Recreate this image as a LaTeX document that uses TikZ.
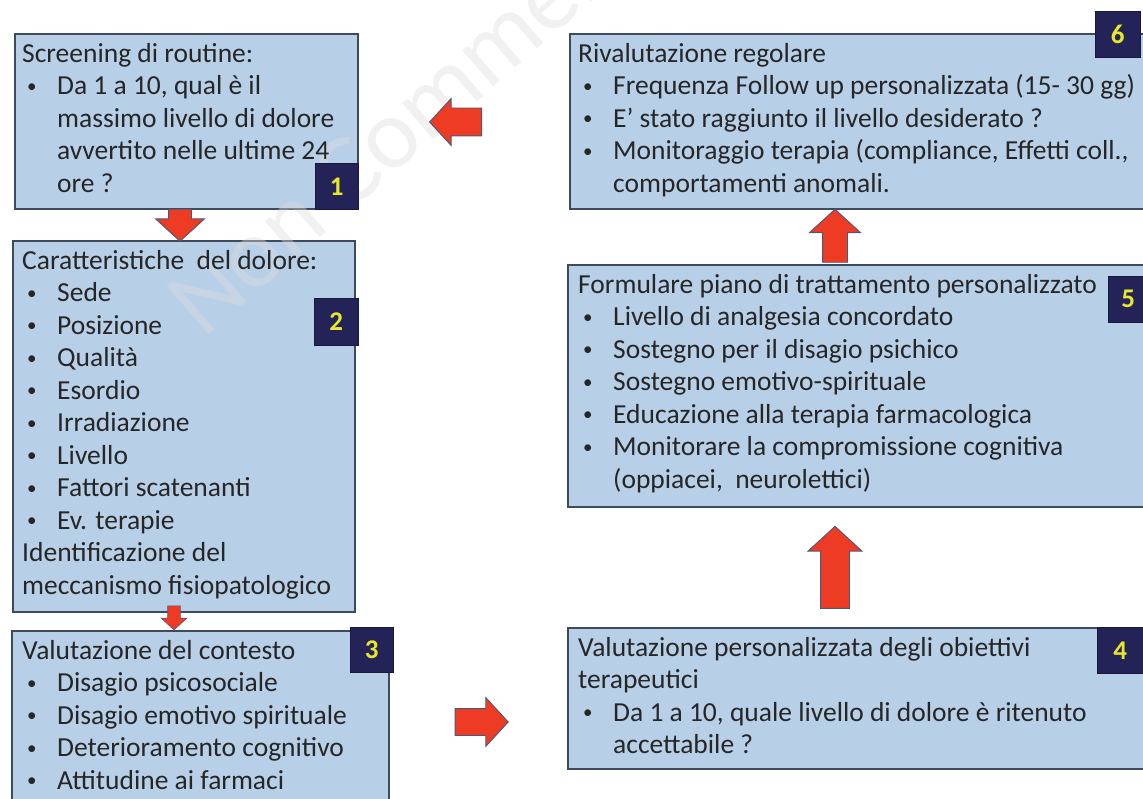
\documentclass[tikz,border=0pt]{standalone}
\usepackage{fontspec}
\setmainfont{Carlito}
\usetikzlibrary{shapes.arrows,calc}

\definecolor{boxfill}{HTML}{B8CFE8}
\definecolor{boxline}{HTML}{3E4A5E}
\definecolor{badgefill}{HTML}{232357}
\definecolor{badgetext}{HTML}{E8E82A}
\definecolor{arrowred}{HTML}{EE3B24}
\definecolor{arrowline}{HTML}{4B5878}
\definecolor{txt}{HTML}{262626}
\definecolor{wmark}{HTML}{DCDCDC}

% bullet line, continuation line, and a strut fixing the first baseline
\newcommand{\bul}{\raisebox{2.5pt}{\fontsize{19}{19}\selectfont •}}
\newcommand{\itm}[1]{\hspace*{5pt}\makebox[30pt][l]{\bul}#1}
\newcommand{\cnt}[1]{\hspace*{35pt}#1}
\newcommand{\firstln}{\rule{0pt}{22pt}}

\tikzset{
  stage/.style={rectangle, draw=boxline, line width=1.6pt, fill=boxfill,
    anchor=north west, inner sep=0pt},
  stagetext/.style={anchor=north west, inner sep=0pt, align=left, text=txt,
    font=\fontsize{27.5}{32.5}\selectfont},
  badge/.style={rectangle, fill=badgefill, draw=badgefill!70!black, line width=0.6pt,
    anchor=north west, inner sep=0pt, text=badgetext,
    font=\fontsize{27}{27}\selectfont\bfseries},
  blockarrow/.style={single arrow, fill=arrowred, draw=arrowline, line width=0.9pt,
    inner xsep=0pt, single arrow tip angle=95},
}

\begin{document}
\begin{tikzpicture}[x=1pt,y=-1pt]
\useasboundingbox (0,0) rectangle (1143,799);
\clip (0,0) rectangle (1143,799);

% stage boxes
\node[stage, minimum width=343pt, minimum height=175pt] (s1) at (14,33) {};
\node[stage, minimum width=342pt, minimum height=371pt] (s2) at (12,240) {};
\node[stage, minimum width=377pt, minimum height=190pt] (s3) at (11,630) {};
\node[stage, minimum width=600pt, minimum height=141pt] (s4) at (567,627) {};
\node[stage, minimum width=600pt, minimum height=242pt] (s5) at (567,264) {};
\node[stage, minimum width=600pt, minimum height=175pt] (s6) at (569,33) {};

% faint watermark
\node[rotate=41, anchor=base west, inner sep=0pt, text=wmark, text opacity=0.4,
  font=\fontsize{100}{100}\selectfont] (wm) at (203,340) {Non Commerciale};

% stage texts
\node[stagetext] (t1) at ($(s1.north west)+(8,7)$) {\firstln Screening di routine:\\
  \itm{Da 1 a 10, qual è il}\\
  \cnt{massimo livello di dolore}\\
  \cnt{avvertito nelle ultime 24}\\
  \cnt{ore ?}};
\node[stagetext] (t2) at ($(s2.north west)+(10,7)$) {\firstln Caratteristiche\ \ del dolore:\\
  \itm{Sede}\\
  \itm{Posizione}\\
  \itm{Qualità}\\
  \itm{Esordio}\\
  \itm{Irradiazione}\\
  \itm{Livello}\\
  \itm{Fattori scatenanti}\\
  \itm{Ev. terapie}\\
  Identificazione del\\
  meccanismo fisiopatologico};
\node[stagetext] (t3) at ($(s3.north west)+(11,7)$) {\firstln Valutazione del contesto\\
  \itm{Disagio psicosociale}\\
  \itm{Disagio emotivo spirituale}\\
  \itm{Deterioramento cognitivo}\\
  \itm{Attitudine ai farmaci}};
\node[stagetext] (t4) at ($(s4.north west)+(11,7)$) {\firstln Valutazione personalizzata degli obiettivi\\
  terapeutici\\
  \itm{Da 1 a 10, quale livello di dolore è ritenuto}\\
  \cnt{accettabile ?}};
\node[stagetext] (t5) at ($(s5.north west)+(11,7)$) {\firstln Formulare piano di trattamento personalizzato\\
  \itm{Livello di analgesia concordato}\\
  \itm{Sostegno per il disagio psichico}\\
  \itm{Sostegno emotivo-spirituale}\\
  \itm{Educazione alla terapia farmacologica}\\
  \itm{Monitorare la compromissione cognitiva}\\
  \cnt{(oppiacei,\ \ neurolettici)}};
\node[stagetext] (t6) at ($(s6.north west)+(9,7)$) {\firstln Rivalutazione regolare\\
  \itm{Frequenza Follow up personalizzata (15- 30 gg)}\\
  \itm{E’ stato raggiunto il livello desiderato ?}\\
  \itm{Monitoraggio terapia (compliance, Effetti coll.,}\\
  \cnt{comportamenti anomali.}};

% step numbers
\node[badge, minimum width=43pt, minimum height=46pt] (n1) at (315,163) {1};
\node[badge, minimum width=44pt, minimum height=47pt] (n2) at (314,298) {2};
\node[badge, minimum width=43pt, minimum height=45pt] (n3) at (350,627) {3};
\node[badge, minimum width=46pt, minimum height=46pt] (n4) at (1097,627) {4};
\node[badge, minimum width=40pt, minimum height=46pt] (n5) at (1108,276) {5};
\node[badge, minimum width=45pt, minimum height=46pt] (n6) at (1095,11) {6};

% block arrows between the stages (shaft = 2 x inner ysep)
\node[blockarrow, rotate=-90, minimum height=32pt, inner ysep=11pt,
  single arrow head extend=13pt] (a12) at (180,220) {};
\node[blockarrow, rotate=-90, minimum height=24pt, inner ysep=6pt,
  single arrow head extend=6.5pt, line width=0.6pt] (a23) at (174,615) {};
\node[blockarrow, minimum height=53pt, inner ysep=13pt,
  single arrow head extend=11pt] (a34) at (475.5,722) {};
\node[blockarrow, rotate=90, minimum height=82pt, inner ysep=14pt,
  single arrow head extend=12.5pt] (a45) at (835,574) {};
\node[blockarrow, rotate=90, minimum height=53pt, inner ysep=12pt,
  single arrow head extend=13pt] (a56) at (835,241.5) {};
\node[blockarrow, rotate=180, minimum height=52pt, inner ysep=13.5pt,
  single arrow head extend=9.5pt] (a61) at (462,122) {};
\end{tikzpicture}
\end{document}
